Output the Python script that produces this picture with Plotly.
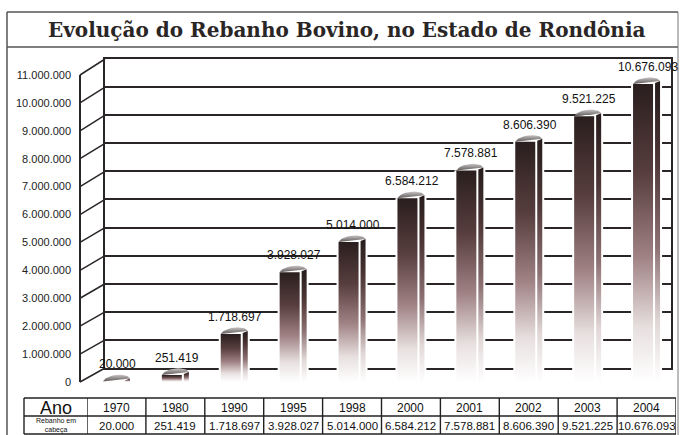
import math
import plotly.graph_objects as go

# ---------------- data ----------------
years = ["1970", "1980", "1990", "1995", "1998", "2000", "2001", "2002", "2003", "2004"]
rebanho = [20000, 251419, 1718697, 3928027, 5014000, 6584212, 7578881, 8606390, 9521225, 10676093]
tick_values = [0, 1000000, 2000000, 3000000, 4000000, 5000000, 6000000,
               7000000, 8000000, 9000000, 10000000, 11000000]
tick_labels = ["0", "1.000.000", "2.000.000", "3.000.000", "4.000.000", "5.000.000",
               "6.000.000", "7.000.000", "8.000.000", "9.000.000", "10.000.000", "11.000.000"]
title_text = "Evolução do Rebanho Bovino, no Estado de Rondônia"
row1_label = "Ano"
row2_label = "Rebanho em<br>cabeça"


def fmt(v):
    return f"{v:,}".replace(",", ".")


# ---------------- geometry (pixels) ----------------
W, H = 680, 435
YMAX = 11000000


def px(x):
    return x / W


def py(y):
    return 1 - y / H


FRONT_X, FRONT_Y0, FRONT_Y1 = 80, 382, 75
BACK_X0, BACK_X1, BACK_Y0, BACK_Y1 = 105, 671, 368, 59
CAT_X0, CAT_X1 = 87, 676
TAB_X0 = 24
TAB_Y0, TAB_YM, TAB_Y1 = 398, 416, 434

cat_px = (CAT_X1 - CAT_X0) / len(years)
y_px = (FRONT_Y0 - FRONT_Y1) / YMAX

main_w = 20 / cat_px
gap_w = 2 / cat_px
side_w = 5 / cat_px
marg = 2 / cat_px
dy = 3 / y_px
cap_h = 5 / y_px
total_w = main_w + gap_w + side_w

main_scale = [[0, "rgb(255,255,255)"], [0.18, "rgb(232,224,224)"], [0.42, "rgb(160,130,132)"],
              [0.7, "rgb(88,62,62)"], [1, "rgb(42,30,30)"]]
side_scale = [[0, "rgb(255,255,255)"], [0.2, "rgb(225,215,215)"], [0.45, "rgb(140,112,114)"],
              [0.75, "rgb(75,52,52)"], [1, "rgb(38,28,28)"]]
cap_scale = [[0, "rgb(95,88,88)"], [0.6, "rgb(170,165,165)"], [1, "rgb(225,222,222)"]]

fig = go.Figure()

# dummy trace so the back-wall subplot exists
fig.add_trace(go.Scatter(x=[None], y=[None], xaxis="x", yaxis="y", showlegend=False, hoverinfo="skip"))

for i, v in enumerate(rebanho):
    xl = i - total_w / 2
    xm = xl + main_w
    xs0 = xm + gap_w
    xs1 = xs0 + side_w
    # white backing (hides back-wall grid behind bar)
    fig.add_trace(go.Scatter(
        x=[xl - marg, xs1 + marg, xs1 + marg, xl - marg, xl - marg],
        y=[0, 0, v + dy, v, 0], xaxis="x2", yaxis="y2",
        mode="lines", line=dict(width=0), fill="toself", fillcolor="white",
        showlegend=False, hoverinfo="skip"))
    # front face
    fig.add_trace(go.Scatter(
        x=[xl, xm, xm, xl, xl], y=[0, 0, v, v, 0], xaxis="x2", yaxis="y2",
        mode="lines", line=dict(width=0), fill="toself",
        fillgradient=dict(type="vertical", colorscale=main_scale, start=0, stop=v),
        showlegend=False, hoverinfo="skip"))
    # side face
    fig.add_trace(go.Scatter(
        x=[xs0, xs1, xs1, xs0, xs0], y=[0, 0, v + dy, v + 0.35 * dy, 0], xaxis="x2", yaxis="y2",
        mode="lines", line=dict(width=0), fill="toself",
        fillgradient=dict(type="vertical", colorscale=side_scale, start=0, stop=v + dy),
        showlegend=False, hoverinfo="skip"))
    # top cap (dome)
    cx = [xl, xs1]
    cy = [v, v + dy]
    n = 10
    for k in range(n + 1):
        t = 1 - k / n
        cx.append(xl + t * (xs1 - xl))
        cy.append(v + t * dy + cap_h * math.sin(math.pi * t) ** 0.5)
    fig.add_trace(go.Scatter(
        x=cx, y=cy, xaxis="x2", yaxis="y2",
        mode="lines", line=dict(width=0), fill="toself",
        fillgradient=dict(type="vertical", colorscale=cap_scale, start=v, stop=v + dy + cap_h),
        showlegend=False, hoverinfo="skip"))

annotations = []
# value labels above bars
for i, v in enumerate(rebanho):
    annotations.append(dict(x=i + 0.02, y=v, xref="x2", yref="y2", text=fmt(v), showarrow=False,
                            xanchor="center", yanchor="middle", yshift=17,
                            font=dict(family="Liberation Sans, Arial", size=12, color="#111")))

# title
annotations.append(dict(x=px(346), y=py(30), xref="paper", yref="paper", text=title_text,
                        showarrow=False, xanchor="center", yanchor="middle",
                        font=dict(family="DejaVu Serif", size=20, color="#2b2626", weight="bold")))

# table text
row1_y = py((TAB_Y0 + TAB_YM) / 2 + 0.5)
row2_y = py((TAB_YM + TAB_Y1) / 2 + 0.5)
annotations.append(dict(x=px((TAB_X0 + CAT_X0) / 2), y=row1_y, xref="paper", yref="paper",
                        text=row1_label, showarrow=False, xanchor="center", yanchor="middle",
                        height=15, borderpad=0,
                        font=dict(family="Liberation Sans, Arial", size=18, color="#111")))
annotations.append(dict(x=px((TAB_X0 + CAT_X0) / 2), y=row2_y, xref="paper", yref="paper",
                        text=row2_label, showarrow=False, xanchor="center", yanchor="middle",
                        borderpad=0,
                        font=dict(family="Liberation Sans, Arial", size=7, color="#111")))
for i, (yr, v) in enumerate(zip(years, rebanho)):
    annotations.append(dict(x=i, y=row1_y, xref="x2", yref="paper", text=yr,
                            showarrow=False, xanchor="center", yanchor="middle",
                            font=dict(family="Liberation Sans, Arial", size=12, color="#111")))
    annotations.append(dict(x=i, y=row2_y, xref="x2", yref="paper", text=fmt(v),
                            showarrow=False, xanchor="center", yanchor="middle",
                            font=dict(family="Liberation Sans, Arial", size=11.5, color="#111")))

shapes = []
dark = "#2a2626"
# outer frame + title box
shapes.append(dict(type="line", xref="paper", yref="paper", x0=px(7), x1=px(678), y0=py(12), y1=py(12),
                   line=dict(color="#555", width=1.5)))
shapes.append(dict(type="line", xref="paper", yref="paper", x0=px(7), x1=px(678), y0=py(47), y1=py(47),
                   line=dict(color="#555", width=1.5)))
shapes.append(dict(type="line", xref="paper", yref="paper", x0=px(7), x1=px(7), y0=py(12), y1=py(435),
                   line=dict(color="#555", width=1.5)))
shapes.append(dict(type="line", xref="paper", yref="paper", x0=px(678), x1=px(678), y0=py(12), y1=py(435),
                   line=dict(color="#777", width=1)))
# left wall diagonals
for t in tick_values:
    yf = FRONT_Y0 - (FRONT_Y0 - FRONT_Y1) * t / YMAX
    yb = BACK_Y0 - (BACK_Y0 - BACK_Y1) * t / YMAX
    shapes.append(dict(type="line", xref="paper", yref="paper", x0=px(FRONT_X), x1=px(BACK_X0),
                       y0=py(yf), y1=py(yb), line=dict(color=dark, width=1.5), layer="below"))
# table lines
for yy in (TAB_Y0, TAB_YM, TAB_Y1):
    shapes.append(dict(type="line", xref="paper", yref="paper", x0=px(TAB_X0), x1=px(CAT_X1),
                       y0=py(yy), y1=py(yy), line=dict(color="#222", width=1.4)))
shapes.append(dict(type="line", xref="paper", yref="paper", x0=px(TAB_X0), x1=px(TAB_X0),
                   y0=py(TAB_Y0), y1=py(TAB_Y1), line=dict(color="#222", width=1.4)))
for k in range(len(years) + 1):
    shapes.append(dict(type="line", xref="x2", yref="paper", x0=k - 0.5, x1=k - 0.5,
                       y0=py(TAB_Y0), y1=py(TAB_Y1), line=dict(color="#222", width=1.4)))

fig.update_layout(
    template="none",
    width=W, height=H,
    autosize=False,
    margin=dict(l=0, r=0, t=0, b=0, pad=0, autoexpand=False),
    paper_bgcolor="white", plot_bgcolor="rgba(0,0,0,0)",
    showlegend=False,
    xaxis=dict(domain=[px(BACK_X0), px(BACK_X1)], range=[0, 1], anchor="y", automargin=False,
               showgrid=False, zeroline=False, showticklabels=False, ticks="",
               showline=True, mirror=True, linecolor=dark, linewidth=1.5, fixedrange=True),
    yaxis=dict(domain=[py(BACK_Y0), py(BACK_Y1)], range=[0, YMAX], anchor="x", automargin=False,
               tickvals=tick_values, showgrid=True, gridcolor=dark, gridwidth=2,
               zeroline=False, showticklabels=False, ticks="",
               showline=True, mirror=True, linecolor=dark, linewidth=1.5, fixedrange=True),
    xaxis2=dict(domain=[px(CAT_X0), px(CAT_X1)], range=[-0.5, len(years) - 0.5], anchor="y2",
                automargin=False, visible=False, fixedrange=True),
    yaxis2=dict(domain=[py(FRONT_Y0), py(FRONT_Y1)], range=[0, YMAX], anchor="free", position=px(FRONT_X),
                automargin=False, tickvals=tick_values, ticktext=tick_labels, showgrid=False, zeroline=False,
                ticks="", ticklabelstandoff=6, showline=True, linecolor=dark, linewidth=1.5,
                tickfont=dict(family="Liberation Sans, Arial", size=11, color="#222"), fixedrange=True),
    annotations=annotations,
    shapes=shapes,
)

fig.write_html(
    "out.html",
    config={"displayModeBar": False, "responsive": False},
    post_script="document.body.style.margin='0px';document.body.style.padding='0px';"
                "document.body.style.overflow='hidden';",
)
